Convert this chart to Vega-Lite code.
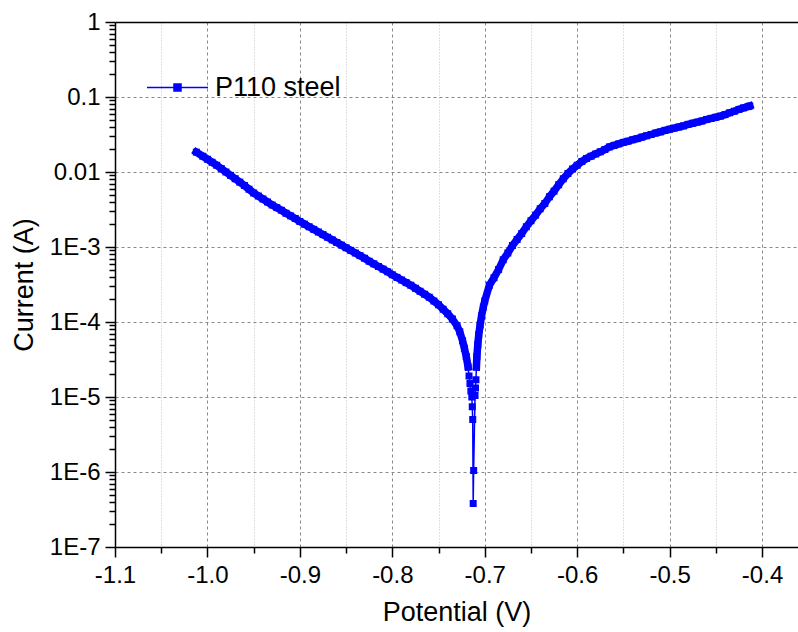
{
  "$schema": "https://vega.github.io/schema/vega-lite/v6.json",
  "width": 683,
  "height": 525,
  "autosize": {"type": "none"},
  "padding": {"left": 115, "top": 22, "right": 0, "bottom": 85},
  "background": "white",
  "view": {"stroke": "transparent", "strokeWidth": 0},
  "config": {
    "font": "Liberation Sans",
    "view": {"stroke": "transparent", "strokeWidth": 0},
    "style": {"cell": {"stroke": "transparent", "strokeWidth": 0}},
    "axis": {
      "labelFont": "Liberation Sans",
      "titleFont": "Liberation Sans",
      "labelColor": "black",
      "titleColor": "black",
      "titleFontWeight": "normal",
      "labelFontSize": 24,
      "titleFontSize": 27,
      "domainColor": "black",
      "tickColor": "black",
      "domainWidth": 1.5,
      "tickWidth": 1.5
    }
  },
  "data": {
    "values": [
      {"E": -1.012, "I": 1.84e-2},
      {"E": -1.005, "I": 1.622e-2},
      {"E": -1.000, "I": 1.479e-2},
      {"E": -0.995, "I": 1.349e-2},
      {"E": -0.990, "I": 1.230e-2},
      {"E": -0.985, "I": 1.109e-2},
      {"E": -0.980, "I": 1.000e-2},
      {"E": -0.975, "I": 9.016e-3},
      {"E": -0.970, "I": 8.128e-3},
      {"E": -0.965, "I": 7.328e-3},
      {"E": -0.960, "I": 6.607e-3},
      {"E": -0.955, "I": 5.888e-3},
      {"E": -0.950, "I": 5.248e-3},
      {"E": -0.945, "I": 4.786e-3},
      {"E": -0.940, "I": 4.365e-3},
      {"E": -0.935, "I": 3.981e-3},
      {"E": -0.930, "I": 3.631e-3},
      {"E": -0.925, "I": 3.350e-3},
      {"E": -0.920, "I": 3.090e-3},
      {"E": -0.915, "I": 2.818e-3},
      {"E": -0.910, "I": 2.600e-3},
      {"E": -0.905, "I": 2.399e-3},
      {"E": -0.900, "I": 2.188e-3},
      {"E": -0.895, "I": 2.018e-3},
      {"E": -0.890, "I": 1.862e-3},
      {"E": -0.885, "I": 1.718e-3},
      {"E": -0.880, "I": 1.585e-3},
      {"E": -0.875, "I": 1.462e-3},
      {"E": -0.870, "I": 1.349e-3},
      {"E": -0.865, "I": 1.245e-3},
      {"E": -0.860, "I": 1.148e-3},
      {"E": -0.855, "I": 1.059e-3},
      {"E": -0.850, "I": 9.772e-4},
      {"E": -0.845, "I": 9.016e-4},
      {"E": -0.840, "I": 8.318e-4},
      {"E": -0.835, "I": 7.674e-4},
      {"E": -0.830, "I": 7.079e-4},
      {"E": -0.825, "I": 6.457e-4},
      {"E": -0.820, "I": 5.957e-4},
      {"E": -0.815, "I": 5.495e-4},
      {"E": -0.810, "I": 5.070e-4},
      {"E": -0.805, "I": 4.677e-4},
      {"E": -0.800, "I": 4.266e-4},
      {"E": -0.795, "I": 3.936e-4},
      {"E": -0.790, "I": 3.631e-4},
      {"E": -0.785, "I": 3.350e-4},
      {"E": -0.780, "I": 3.090e-4},
      {"E": -0.775, "I": 2.818e-4},
      {"E": -0.770, "I": 2.570e-4},
      {"E": -0.765, "I": 2.344e-4},
      {"E": -0.760, "I": 2.138e-4},
      {"E": -0.755, "I": 1.905e-4},
      {"E": -0.750, "I": 1.698e-4},
      {"E": -0.745, "I": 1.479e-4},
      {"E": -0.740, "I": 1.288e-4},
      {"E": -0.735, "I": 1.096e-4},
      {"E": -0.730, "I": 8.913e-5},
      {"E": -0.727, "I": 7.413e-5},
      {"E": -0.724, "I": 5.623e-5},
      {"E": -0.722, "I": 4.467e-5},
      {"E": -0.720, "I": 3.467e-5},
      {"E": -0.718, "I": 2.512e-5},
      {"E": -0.717, "I": 1.905e-5},
      {"E": -0.716, "I": 1.514e-5},
      {"E": -0.715, "I": 1.202e-5},
      {"E": -0.714, "I": 1.000e-5},
      {"E": -0.7135, "I": 7.413e-6},
      {"E": -0.713, "I": 5.012e-6},
      {"E": -0.7125, "I": 3.802e-7},
      {"E": -0.712, "I": 1.047e-6},
      {"E": -0.7105, "I": 1.047e-5},
      {"E": -0.710, "I": 1.318e-5},
      {"E": -0.7095, "I": 1.698e-5},
      {"E": -0.709, "I": 2.512e-5},
      {"E": -0.7085, "I": 3.467e-5},
      {"E": -0.7075, "I": 5.012e-5},
      {"E": -0.7065, "I": 6.761e-5},
      {"E": -0.705, "I": 9.120e-5},
      {"E": -0.7035, "I": 1.202e-4},
      {"E": -0.7015, "I": 1.585e-4},
      {"E": -0.700, "I": 1.905e-4},
      {"E": -0.695, "I": 3.090e-4},
      {"E": -0.690, "I": 3.890e-4},
      {"E": -0.685, "I": 5.012e-4},
      {"E": -0.680, "I": 6.761e-4},
      {"E": -0.675, "I": 8.318e-4},
      {"E": -0.670, "I": 1.047e-3},
      {"E": -0.665, "I": 1.259e-3},
      {"E": -0.660, "I": 1.514e-3},
      {"E": -0.655, "I": 1.862e-3},
      {"E": -0.650, "I": 2.239e-3},
      {"E": -0.645, "I": 2.661e-3},
      {"E": -0.640, "I": 3.236e-3},
      {"E": -0.635, "I": 3.802e-3},
      {"E": -0.630, "I": 4.677e-3},
      {"E": -0.625, "I": 5.559e-3},
      {"E": -0.620, "I": 6.761e-3},
      {"E": -0.615, "I": 8.128e-3},
      {"E": -0.610, "I": 9.550e-3},
      {"E": -0.605, "I": 1.096e-2},
      {"E": -0.600, "I": 1.230e-2},
      {"E": -0.595, "I": 1.380e-2},
      {"E": -0.590, "I": 1.514e-2},
      {"E": -0.585, "I": 1.622e-2},
      {"E": -0.580, "I": 1.738e-2},
      {"E": -0.575, "I": 1.862e-2},
      {"E": -0.570, "I": 1.995e-2},
      {"E": -0.565, "I": 2.163e-2},
      {"E": -0.560, "I": 2.265e-2},
      {"E": -0.555, "I": 2.371e-2},
      {"E": -0.550, "I": 2.483e-2},
      {"E": -0.545, "I": 2.570e-2},
      {"E": -0.540, "I": 2.692e-2},
      {"E": -0.535, "I": 2.786e-2},
      {"E": -0.530, "I": 2.917e-2},
      {"E": -0.525, "I": 3.041e-2},
      {"E": -0.520, "I": 3.162e-2},
      {"E": -0.515, "I": 3.311e-2},
      {"E": -0.510, "I": 3.428e-2},
      {"E": -0.505, "I": 3.589e-2},
      {"E": -0.500, "I": 3.715e-2},
      {"E": -0.495, "I": 3.846e-2},
      {"E": -0.490, "I": 3.981e-2},
      {"E": -0.485, "I": 4.121e-2},
      {"E": -0.480, "I": 4.315e-2},
      {"E": -0.475, "I": 4.467e-2},
      {"E": -0.470, "I": 4.624e-2},
      {"E": -0.465, "I": 4.786e-2},
      {"E": -0.460, "I": 5.012e-2},
      {"E": -0.455, "I": 5.188e-2},
      {"E": -0.450, "I": 5.370e-2},
      {"E": -0.445, "I": 5.559e-2},
      {"E": -0.440, "I": 5.821e-2},
      {"E": -0.435, "I": 6.166e-2},
      {"E": -0.430, "I": 6.457e-2},
      {"E": -0.425, "I": 6.839e-2},
      {"E": -0.420, "I": 7.161e-2},
      {"E": -0.415, "I": 7.447e-2},
      {"E": -0.4133, "I": 7.586e-2}
    ]
  },
  "layer": [
    {
      "transform": [{"filter": "datum.E <= -0.7175"}],
      "mark": {"type": "line", "color": "#0000ff", "strokeWidth": 7.5, "strokeCap": "square", "strokeJoin": "round"},
      "encoding": {
        "x": {
          "field": "E", "type": "quantitative",
          "scale": {"domain": [-1.1, -0.3611], "nice": false, "zero": false},
          "axis": {
            "orient": "bottom",
            "values": [-1.1, -1.05, -1.0, -0.95, -0.9, -0.85, -0.8, -0.75, -0.7, -0.65, -0.6, -0.55, -0.5, -0.45, -0.4],
            "labelExpr": "abs(datum.value * 10 - round(datum.value * 10)) > 0.01 ? '' : (datum.value < 0 ? '-' : '') + format(abs(datum.value), '.1f')",
            "tickSize": {"condition": {"test": "abs(datum.value * 10 - round(datum.value * 10)) > 0.01", "value": 6}, "value": 10},
            "labelPadding": 6, "labelFlush": false,
            "grid": true,
            "gridColor": {"condition": {"test": "abs(datum.value * 10 - round(datum.value * 10)) > 0.01", "value": "#c0c0c0"}, "value": "#888888"},
            "gridDash": {"condition": {"test": "abs(datum.value * 10 - round(datum.value * 10)) > 0.01", "value": [1, 2]}, "value": [3, 3]},
            "gridWidth": 1,
            "title": "Potential (V)", "titlePadding": 12
          }
        },
        "y": {
          "field": "I", "type": "quantitative",
          "scale": {"type": "log", "domain": [1e-7, 1], "nice": false},
          "axis": {
            "values": [1e-7, 2e-7, 3e-7, 4e-7, 5e-7, 6e-7, 7e-7, 8e-7, 9e-7,
                       1e-6, 2e-6, 3e-6, 4e-6, 5e-6, 6e-6, 7e-6, 8e-6, 9e-6,
                       1e-5, 2e-5, 3e-5, 4e-5, 5e-5, 6e-5, 7e-5, 8e-5, 9e-5,
                       1e-4, 2e-4, 3e-4, 4e-4, 5e-4, 6e-4, 7e-4, 8e-4, 9e-4,
                       1e-3, 2e-3, 3e-3, 4e-3, 5e-3, 6e-3, 7e-3, 8e-3, 9e-3,
                       1e-2, 2e-2, 3e-2, 4e-2, 5e-2, 6e-2, 7e-2, 8e-2, 9e-2,
                       0.1, 0.2, 0.3, 0.4, 0.5, 0.6, 0.7, 0.8, 0.9, 1],
            "labelExpr": "abs(log(datum.value) / LN10 - round(log(datum.value) / LN10)) > 0.001 ? '' : (datum.value >= 0.009 ? (datum.value > 0.5 ? '1' : (datum.value > 0.05 ? '0.1' : '0.01')) : '1E' + round(log(datum.value) / LN10))",
            "tickSize": {"condition": {"test": "abs(log(datum.value) / LN10 - round(log(datum.value) / LN10)) > 0.001", "value": 6}, "value": 10},
            "labelPadding": 5, "labelFlush": false,
            "grid": true,
            "gridColor": {"condition": {"test": "datum.value > 0.95", "value": "#000000"}, "value": "#888888"},
            "gridDash": {"condition": {"test": "datum.value > 0.95", "value": []}, "value": [3, 3]},
            "gridWidth": {"condition": {"test": "datum.value > 0.95", "value": 1.5}, "value": 1},
            "gridOpacity": {"condition": {"test": "abs(log(datum.value) / LN10 - round(log(datum.value) / LN10)) > 0.001", "value": 0}, "value": 1},
            "title": "Current (A)", "titlePadding": 11
          }
        },
        "color": {
          "datum": "P110 steel", "type": "nominal",
          "scale": {"range": ["#0000ff"]},
          "legend": {
            "orient": "none", "legendX": 31, "legendY": 34, "title": null,
            "padding": 0,
            "symbolType": "M-1,0H1M-0.115,-0.115H0.115V0.115H-0.115Z",
            "symbolSize": 3721, "symbolStrokeWidth": 1.5,
            "labelFont": "Liberation Sans", "labelFontSize": 27, "labelColor": "black",
            "labelOffset": 6,
            "encode": {
              "symbols": {
                "update": {
                  "fill": {"value": "#0000ff"},
                  "stroke": {"value": "#0000ff"},
                  "strokeWidth": {"value": 1.5},
                  "opacity": {"value": 1}
                }
              }
            }
          }
        }
      }
    },
    {
      "transform": [{"filter": "datum.E >= -0.709"}],
      "mark": {"type": "line", "color": "#0000ff", "strokeWidth": 7.5, "strokeCap": "square", "strokeJoin": "round"},
      "encoding": {
        "x": {"field": "E", "type": "quantitative"},
        "y": {"field": "I", "type": "quantitative"}
      }
    },
    {
      "mark": {"type": "line", "color": "#0000ff", "strokeWidth": 1.5},
      "encoding": {
        "x": {"field": "E", "type": "quantitative"},
        "y": {"field": "I", "type": "quantitative"}
      }
    },
    {
      "mark": {"type": "point", "shape": "square", "filled": true, "size": 49, "opacity": 1, "color": "#0000ff"},
      "encoding": {
        "x": {"field": "E", "type": "quantitative"},
        "y": {"field": "I", "type": "quantitative"}
      }
    }
  ]
}
